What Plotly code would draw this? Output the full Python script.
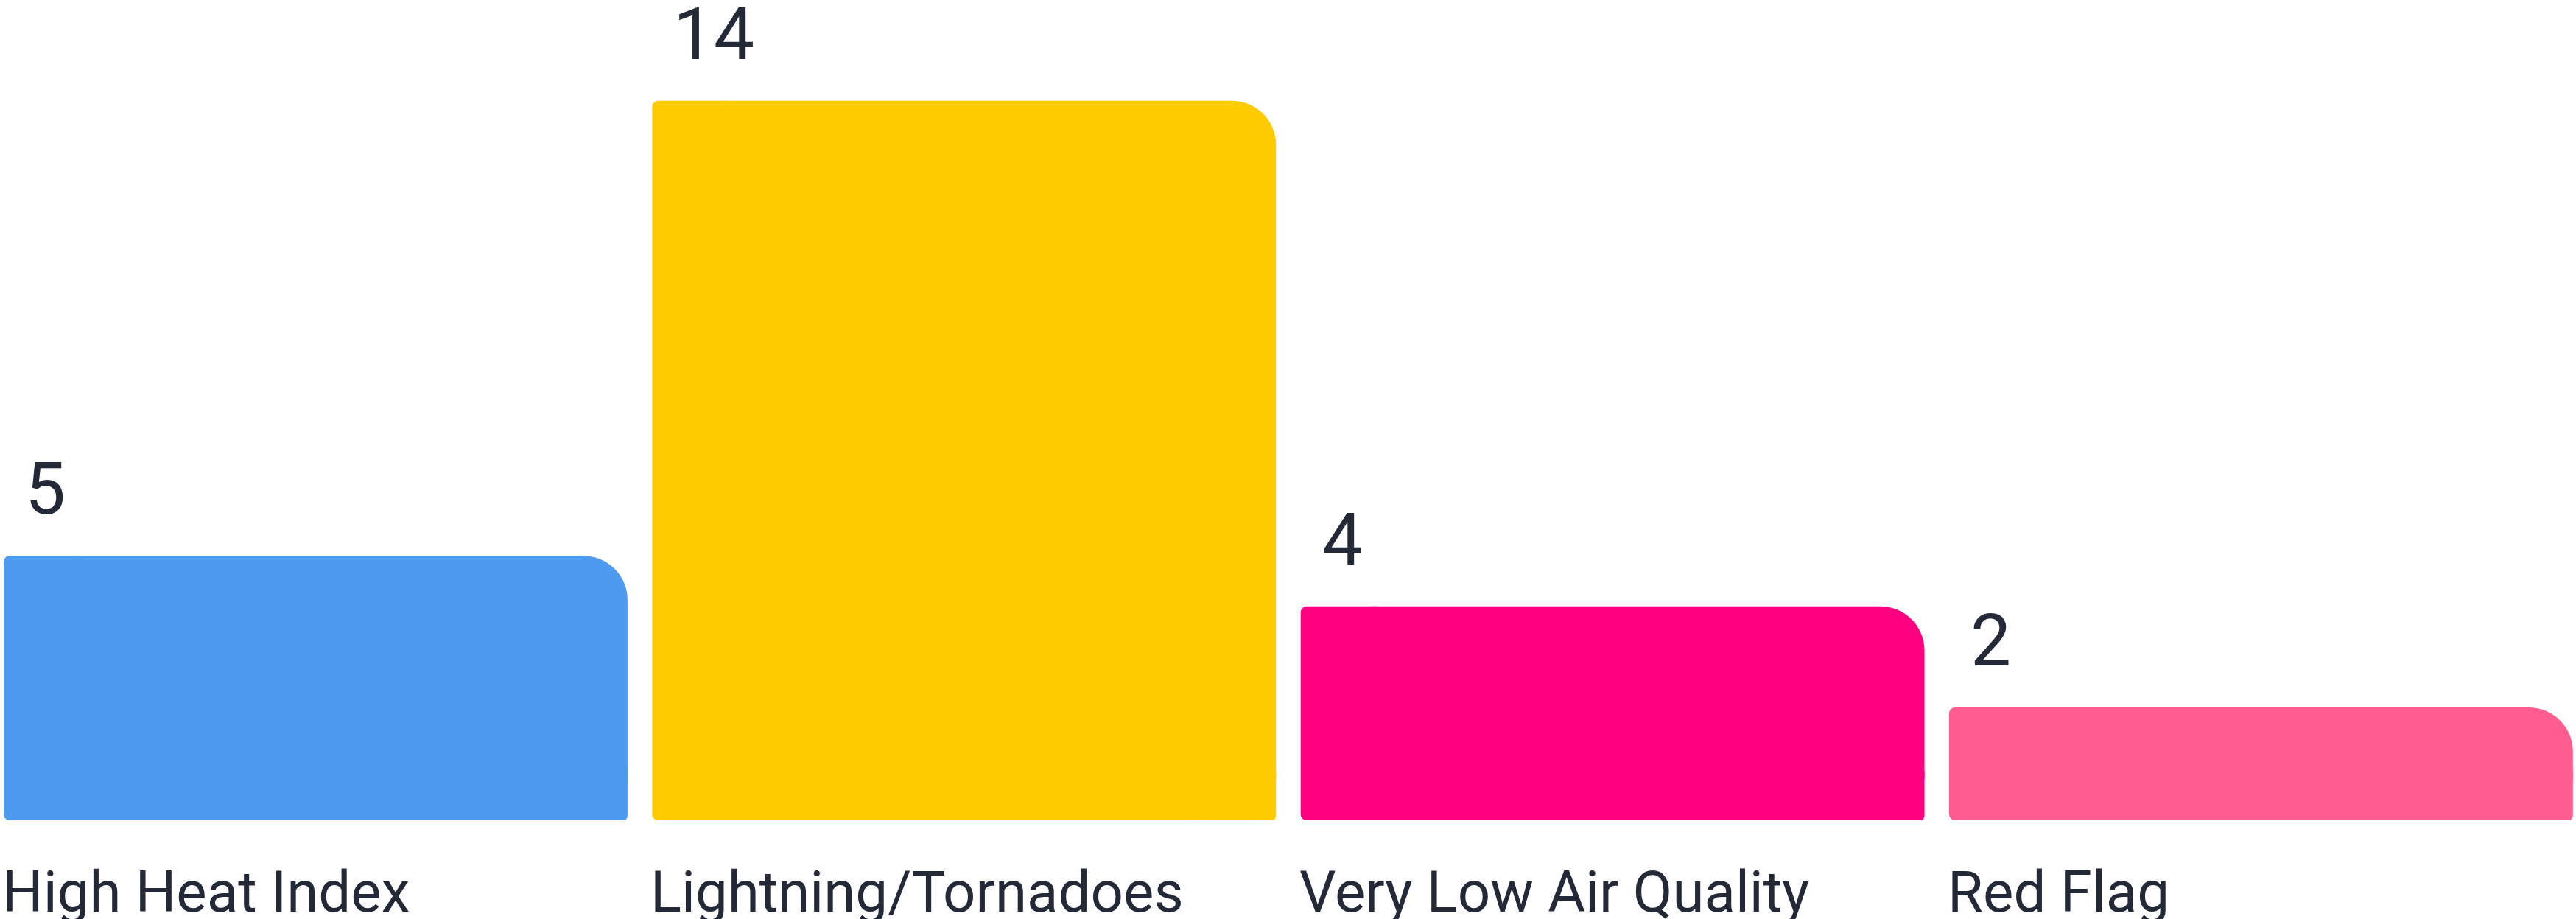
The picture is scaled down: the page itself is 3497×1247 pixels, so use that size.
import plotly.graph_objects as go

# ---- data ----
categories = ["High Heat Index", "Lightning/Tornadoes", "Very Low Air Quality", "Red Flag"]
values = [5, 14, 4, 2]
colors = ["#4E9AEF", "#FFCC00", "#FF0080", "#FF5C8F"]

# ---- layout constants ----
W, H = 3497, 1247
PX_PER_UNIT = 68.6
ZERO_PX = 1097.2          # pixel row of value 0
BASE = -0.23              # bars start slightly below zero
BAR_W = 0.962
PITCH_PX = 880.3
FIRST_CENTER_PX = 428.5

# corner construction (pixels)
BIG_R = 60
SMALL_R = 8
FOOT_R = 6
SIDE_PX = 110
INSET_PX = 40
FOOT_PX = 72

x = list(range(len(categories)))
x_range = [-FIRST_CENTER_PX / PITCH_PX, (W - FIRST_CENTER_PX) / PITCH_PX]
y_range = [(ZERO_PX - H) / PX_PER_UNIT, ZERO_PX / PX_PER_UNIT]

side_u = SIDE_PX / PITCH_PX
inset_u = INSET_PX / PITCH_PX
foot_u = FOOT_PX / PX_PER_UNIT

TEXT = "#232936"
FONT = "Roboto"

fig = go.Figure()

lengths = [v - BASE for v in values]
bases = [BASE] * len(values)

# main body: large rounded top-right corner
fig.add_trace(go.Bar(
    x=x, y=lengths, base=bases,
    width=BAR_W - inset_u, offset=-BAR_W / 2 + inset_u,
    marker=dict(color=colors, line=dict(width=0), cornerradius=BIG_R),
    hoverinfo="skip", showlegend=False))

# left strip: small rounded top-left and bottom-left corners
fig.add_trace(go.Bar(
    x=x, y=lengths, base=bases,
    width=side_u, offset=-BAR_W / 2,
    marker=dict(color=colors, line=dict(width=0), cornerradius=SMALL_R),
    hoverinfo="skip", showlegend=False))

# right foot: small rounded bottom-right corner
fig.add_trace(go.Bar(
    x=x, y=[foot_u] * len(values), base=bases,
    width=side_u, offset=BAR_W / 2 - side_u,
    marker=dict(color=colors, line=dict(width=0), cornerradius=FOOT_R),
    hoverinfo="skip", showlegend=False))

annotations = []
for i, (cat, v) in enumerate(zip(categories, values)):
    left = i - BAR_W / 2
    annotations.append(dict(
        x=left, y=v, xref="x", yref="y", text=str(v), showarrow=False,
        xanchor="left", yanchor="bottom", xshift=27, yshift=31,
        font=dict(family=FONT, size=98, color=TEXT)))
    annotations.append(dict(
        x=left, y=BASE, xref="x", yref="y", text=cat, showarrow=False,
        xanchor="left", yanchor="top", xshift=-4, yshift=-50,
        font=dict(family=FONT, size=78, color=TEXT)))

fig.update_layout(
    width=W, height=H,
    margin=dict(l=0, r=0, t=0, b=0, pad=0),
    paper_bgcolor="white", plot_bgcolor="white",
    barmode="overlay",
    xaxis=dict(range=x_range, visible=False, fixedrange=True),
    yaxis=dict(range=y_range, visible=False, fixedrange=True),
    annotations=annotations,
)

fig.write_html("out.html", config={"displayModeBar": False})
